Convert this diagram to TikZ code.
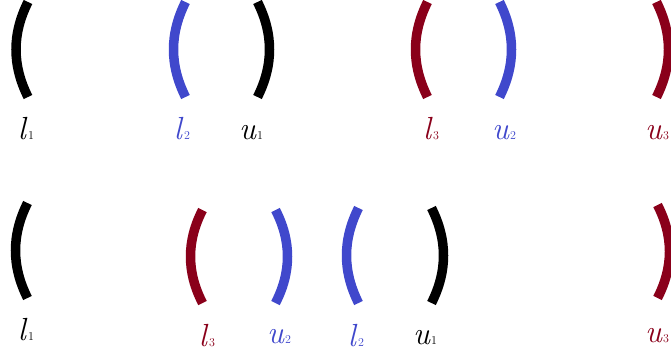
\documentclass[tikz,border=0pt]{standalone}
\usepackage{fontspec}
\usepackage{tikz}
\definecolor{pblue}{RGB}{64,72,204}
\definecolor{pred}{RGB}{138,0,26}
\newcommand{\lbl}[2]{\textit{#1}\kern0.5pt{\fontsize{12}{12}\selectfont #2}}
\begin{document}
\begin{tikzpicture}[x=1pt,y=-1pt,
  brk/.style={line width=9.5pt},
  lab/.style={anchor=base,inner sep=0pt,font=\fontsize{32}{36}\selectfont}]
\useasboundingbox (0,0) rectangle (671,356);
\clip (0,0) rectangle (671,356);
% ---- top row ----
\draw[brk,black] (28,2) .. controls (12,34) and (12,65) .. (28,97);
\draw[brk,pblue] (185.5,2) .. controls (169.5,34) and (169.5,65) .. (185.5,97);
\draw[brk,black] (257.5,2) .. controls (273.5,34) and (273.5,65) .. (257.5,97);
\draw[brk,pred] (427.5,2) .. controls (411.5,34) and (411.5,65) .. (427.5,97);
\draw[brk,pblue] (499.5,2) .. controls (515.5,34) and (515.5,65) .. (499.5,97);
\draw[brk,pred] (656.5,2) .. controls (672.5,34) and (672.5,65) .. (656.5,97);
\node[lab] (tl1) at (26,139) {\lbl{l}{1}};
\node[lab,text=pblue] (tl2) at (182,139) {\lbl{l}{2}};
\node[lab] (tu1) at (251,139) {\lbl{u}{1}};
\node[lab,text=pred] (tl3) at (431,139) {\lbl{l}{3}};
\node[lab,text=pblue] (tu2) at (504,139) {\lbl{u}{2}};
\node[lab,text=pred] (tu3) at (657,139) {\lbl{u}{3}};
% ---- bottom row ----
\draw[brk,black] (27.5,203) .. controls (11.5,235) and (11.5,266) .. (27.5,298);
\draw[brk,pred] (202.5,210) .. controls (186.5,241) and (186.5,272) .. (202.5,303);
\draw[brk,pblue] (275.5,210) .. controls (291.5,241) and (291.5,272) .. (275.5,303);
\draw[brk,pblue] (358.5,208) .. controls (342.5,240) and (342.5,271) .. (358.5,303);
\draw[brk,black] (431.5,208) .. controls (447.5,240) and (447.5,271) .. (431.5,303);
\draw[brk,pred] (657.5,205) .. controls (673.5,236) and (673.5,267) .. (657.5,298);
\node[lab] (bl1) at (26,340) {\lbl{l}{1}};
\node[lab,text=pred] (bl3) at (207,346) {\lbl{l}{3}};
\node[lab,text=pblue] (bu2) at (279,343) {\lbl{u}{2}};
\node[lab,text=pblue] (bl2) at (356,346) {\lbl{l}{2}};
\node[lab] (bu1) at (425,344) {\lbl{u}{1}};
\node[lab,text=pred] (bu3) at (657,342) {\lbl{u}{3}};
\end{tikzpicture}
\end{document}
